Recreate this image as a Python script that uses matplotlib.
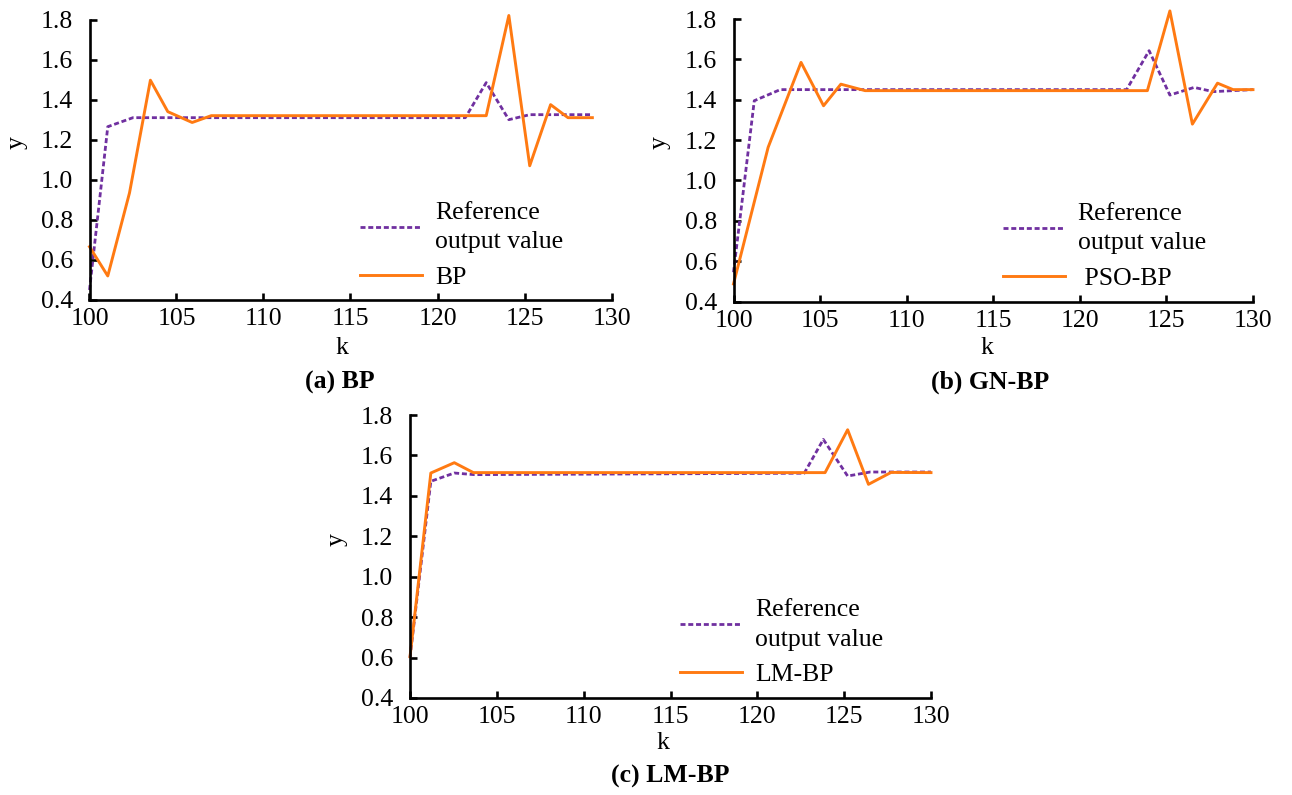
import matplotlib
matplotlib.use("Agg")
import matplotlib.pyplot as plt

plt.rcParams['font.family'] = ['Liberation Serif', 'DejaVu Serif']

W, H = 1292, 795

# (a) BP
a_ref_k = [100, 101.05, 102.5, 121.6, 122.8, 124.1, 125.3, 128.9]
a_ref_y = [0.45, 1.265, 1.31, 1.31, 1.485, 1.30, 1.325, 1.325]
a_bp_k = [100, 101.05, 102.3, 103.5, 104.5, 105.9, 107.0, 122.8, 124.1, 125.3, 126.5, 127.5, 128.9]
a_bp_y = [0.666, 0.52, 0.935, 1.497, 1.34, 1.286, 1.32, 1.32, 1.82, 1.07, 1.375, 1.31, 1.31]

# (b) GN-BP
b_ref_k = [100, 101.2, 102.7, 122.7, 124.0, 125.2, 126.6, 127.7, 130]
b_ref_y = [0.545, 1.395, 1.45, 1.45, 1.643, 1.423, 1.461, 1.44, 1.45]
b_nn_k = [100, 102.0, 103.9, 105.2, 106.2, 107.6, 123.9, 125.2, 126.5, 127.95, 128.85, 130]
b_nn_y = [0.487, 1.164, 1.585, 1.37, 1.477, 1.445, 1.445, 1.84, 1.279, 1.482, 1.45, 1.45]

# (c) LM-BP
c_ref_k = [100, 101.2, 102.55, 103.7, 122.7, 123.8, 125.2, 126.5, 130]
c_ref_y = [0.6, 1.472, 1.513, 1.505, 1.512, 1.679, 1.498, 1.518, 1.518]
c_nn_k = [100, 101.2, 102.55, 103.65, 123.9, 125.2, 126.4, 127.7, 130]
c_nn_y = [0.604, 1.513, 1.564, 1.515, 1.515, 1.727, 1.457, 1.516, 1.515]

x_ticks = [100, 105, 110, 115, 120, 125, 130]
y_ticks = [0.4, 0.6, 0.8, 1.0, 1.2, 1.4, 1.6, 1.8]

ORANGE = '#FF7A12'
PURPLE = '#7030A0'
FS = 18.5

panels = [
    # pixel box (left, right, top, bottom), data, legend label, caption, text positions in pixels
    dict(box=(89.5, 611.5, 19.5, 300), ref=(a_ref_k, a_ref_y), nn=(a_bp_k, a_bp_y), label='BP',
         caption='(a) BP', kpos=(342, 348), ypos=(17, 143), cpos=(340, 382)),
    dict(box=(733.5, 1253, 19, 301.5), ref=(b_ref_k, b_ref_y), nn=(b_nn_k, b_nn_y), label=' PSO-BP',
         caption='(b) GN-BP', kpos=(987, 348), ypos=(660, 143), cpos=(990, 382)),
    dict(box=(410, 931, 415, 698), ref=(c_ref_k, c_ref_y), nn=(c_nn_k, c_nn_y), label='LM-BP',
         caption='(c) LM-BP', kpos=(663, 743), ypos=(337, 540), cpos=(670, 776)),
]

fig = plt.figure(figsize=(W / 100, H / 100), dpi=100)

for p in panels:
    l, r, t, b = p['box']
    ax = fig.add_axes([l / W, 1 - b / H, (r - l) / W, (b - t) / H])
    ax.plot(*p['ref'], color=PURPLE, lw=2.0, dashes=(1.8, 1.0), label='Reference\noutput value')
    ax.plot(*p['nn'], color=ORANGE, lw=2.1, label=p['label'])
    ax.set_xlim(100, 130)
    ax.set_ylim(0.4, 1.8)
    ax.set_xticks(x_ticks)
    ax.set_yticks(y_ticks)
    ax.set_yticklabels([f'{v:.1f}' for v in y_ticks])
    ax.tick_params(direction='in', length=5, width=1.9, labelsize=FS, color='black')
    ax.tick_params(axis='y', pad=12)
    ax.tick_params(axis='x', pad=6)
    for s in ['top', 'right']:
        ax.spines[s].set_visible(False)
    for s in ['left', 'bottom']:
        ax.spines[s].set_linewidth(1.9)
        ax.spines[s].set_color('black')
        ax.spines[s].set_clip_on(False)
    for ln in ax.lines:
        ln.set_clip_on(False)
    leg = ax.legend(loc='upper left', bbox_to_anchor=(0.519, 0.35), frameon=False, fontsize=FS,
                    handlelength=2.4, handletextpad=0.5, labelspacing=0.5, borderpad=0,
                    borderaxespad=0)
    for txt in leg.get_texts():
        txt.set_linespacing(1.45)
    fig.text(p['kpos'][0] / W, 1 - p['kpos'][1] / H, 'k', ha='center', va='center', fontsize=FS)
    fig.text(p['ypos'][0] / W, 1 - p['ypos'][1] / H, 'y', ha='center', va='center', fontsize=FS,
             rotation=90)
    fig.text(p['cpos'][0] / W, 1 - p['cpos'][1] / H, p['caption'], ha='center', va='center',
             fontsize=FS, fontweight='bold')

fig.savefig('out.png', dpi=100)
